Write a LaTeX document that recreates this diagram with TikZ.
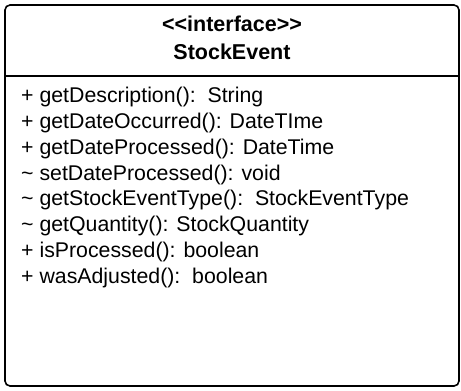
\documentclass[tikz,border=0pt]{standalone}
\usepackage{fontspec}
\setmainfont{Liberation Sans}[Ligatures=TeXOff]
\usetikzlibrary{positioning}

\tikzset{
  classbox/.style={draw, line width=1.6pt, rounded corners=5pt},
  classtitle/.style={font=\bfseries\fontsize{21.5}{24}\selectfont, inner sep=0pt},
  member/.style={anchor=west, font=\fontsize{21.3}{24}\selectfont, inner sep=0pt},
}

\begin{document}
\begin{tikzpicture}[x=1pt,y=-1pt]
  \useasboundingbox (0,0) rectangle (461,391);
  % class outline and compartment rule
  \coordinate (nw) at (5,5);
  \coordinate (se) at (459,386);
  \coordinate (sepw) at (5,76);
  \coordinate (sepe) at (459,76);
  \draw[classbox] (nw) rectangle (se);
  \draw[line width=1.2pt] (sepw) -- (sepe);
  % header
  \node[classtitle] (stereo) at (232,24) {<<interface>>};
  \node[classtitle] (cname) at (232,52) {StockEvent};
  % operations
  \node[member] (getdesc) at (21,97) {+ getDescription():\ \ String};
  \node[member] (getocc) at (21,123) {+ getDateOccurred(): DateTIme};
  \node[member] (getproc) at (21,149) {+ getDateProcessed(): DateTime};
  \node[member] (setproc) at (21,175) {\textasciitilde\ setDateProcessed(): void};
  \node[member] (gettype) at (21,200) {\textasciitilde\ getStockEventType():\ \ StockEventType};
  \node[member] (getqty) at (21,226) {\textasciitilde\ getQuantity(): StockQuantity};
  \node[member] (isproc) at (21,252) {+ isProcessed(): boolean};
  \node[member] (wasadj) at (21,278) {+ wasAdjusted():\ \ boolean};
\end{tikzpicture}
\end{document}
